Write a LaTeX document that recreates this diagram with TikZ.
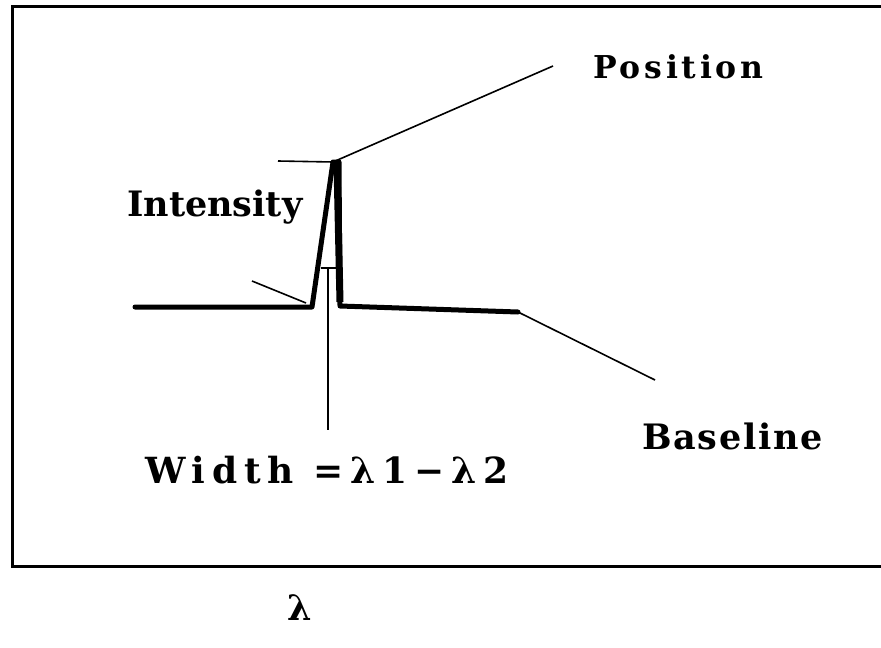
\documentclass[tikz,border=0pt]{standalone}
\usepackage{fontspec}
\setmainfont{DejaVu Serif}
\usetikzlibrary{calc}

\begin{document}
\begin{tikzpicture}[x=1pt,y=-1pt,
  lbl/.style={inner sep=0pt,anchor=base west,font=\fontsize{35}{37}\selectfont\bfseries},
  lead/.style={line width=1.6pt},
  trace/.style={line width=5pt,line join=round,line cap=round}]
\useasboundingbox (0,0) rectangle (881,648);
\draw[line width=3pt] (12.5,6) rectangle (885,566.5);
% spectrum
\coordinate (bl0) at (135,307);
\coordinate (pkl) at (312,307);
\coordinate (pktop) at (333,162);
\coordinate (pkr) at (340,306);
\coordinate (bl1) at (518,312);
\draw[trace] (bl0) -- (pkl) -- (pktop) -- ++(6,0) -- (pkr) -- (bl1);
\draw[line width=7pt] ($(pktop)+(4,2)$) -- ($(pkr)+(0,-4)$);
\draw[line width=2pt] (321,268) -- (336,268);
% labels
\node[lbl,font=\fontsize{31.5}{33}\selectfont\bfseries\addfontfeature{LetterSpace=12}] (pos) at (593,78) {Position};
\node[lbl] (int) at (127,216) {Intensity};
\node[lbl,font=\fontsize{35}{37}\selectfont\bfseries\addfontfeature{LetterSpace=5}] (base) at (642,449) {Baseline};
\node[lbl,font=\fontsize{36}{38}\selectfont\bfseries\addfontfeature{LetterSpace=19}] (wid) at (145,483) {Width =λ1−λ2};
\node[lbl] (lam) at (287,620) {λ};
% leaders
\coordinate (posend) at (553,66);
\coordinate (topl) at (278,161);
\coordinate (wtop) at (328,268);
\coordinate (wend) at (328,430);
\coordinate (lft) at (252,281);
\coordinate (lftend) at (306,303);
\coordinate (baseend) at (655,380);
\draw[lead] (topl) -- (pktop) -- (posend);
\draw[lead] (wtop) -- (wend);
\draw[lead] (lft) -- (lftend);
\draw[lead] (bl1) -- (baseend);
\end{tikzpicture}
\end{document}
